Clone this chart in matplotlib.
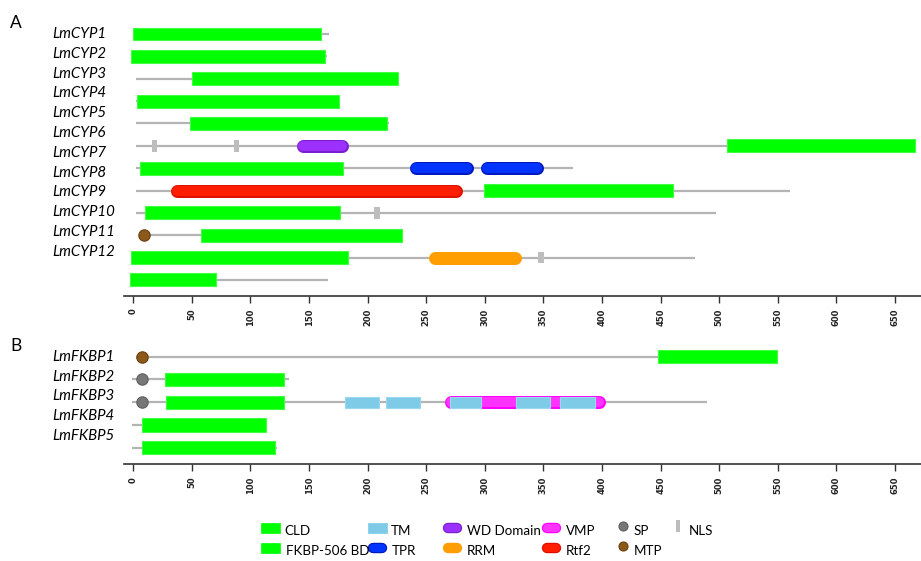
import matplotlib
matplotlib.use("Agg")
import matplotlib.pyplot as plt
from matplotlib.patches import Rectangle

plt.rcParams['font.family'] = ['Lato', 'DejaVu Sans']

# ---- данные: панель A (циклофилины) ----
cyp_labels = ["LmCYP1", "LmCYP2", "LmCYP3", "LmCYP4", "LmCYP5", "LmCYP6",
              "LmCYP7", "LmCYP8", "LmCYP9", "LmCYP10", "LmCYP11", "LmCYP12"]
cyp_line_start = [0, -2, 2, 2, 2, 2, 2, 2, 2, 9.5, -2, -3]
cyp_line_end = [167, 165.5, 226, 176, 218, 667, 375, 560.5, 497, 229.5, 479, 166]
cyp_cld = [(0, 0, 160.4), (1, -2, 164), (2, 50, 226), (3, 3.5, 175.5),
           (4, 48, 216.5), (5, 507, 667), (6, 6, 179), (7, 299.5, 461),
           (8, 10, 176), (9, 58, 229.5), (10, -2, 183), (11, -3, 71)]
cyp_nls = [(5, 18), (5, 88), (8, 208), (10, 348)]
cyp_wd = [(5, 139, 184)]
cyp_tpr = [(6, 236, 290), (6, 296, 350)]
cyp_rtf2 = [(7, 31.5, 281)]
cyp_rrm = [(10, 252, 331)]
cyp_mtp = [(9, 9.5)]

# ---- данные: панель B (FKBP) ----
fkbp_labels = ["LmFKBP1", "LmFKBP2", "LmFKBP3", "LmFKBP4", "LmFKBP5"]
fkbp_line_start = [2, -1, -1, -1, -1]
fkbp_line_end = [549, 133, 490, 113.5, 123]
fkbp_bd = [(0, 448, 549), (1, 27, 128.5), (2, 28, 128.5), (3, 7, 113.5), (4, 7, 120.5)]
fkbp_mtp = [(0, 7.5)]
fkbp_sp = [(1, 7.5), (2, 7.5)]
fkbp_tm = [(2, 181, 210), (2, 216, 245), (2, 270, 296.5), (2, 327, 356), (2, 364, 394)]
fkbp_vmp = [(2, 266, 403)]

ticks = list(range(0, 651, 50))

# цвета
GREEN = "#00ff00"
LINE = "#b4b4b4"
NLS_C = "#bdbdbd"
TM_C = "#7ecbe8"
COL = {"WD": ("#9b30ff", "#7a1fd0"), "TPR": ("#0033ff", "#0018c0"),
       "RRM": ("#ff9e00", "#ff9e00"), "VMP": ("#ff33ff", "#ff00ff"),
       "Rtf2": ("#ff1e00", "#e01000")}
SP_C = ("#777777", "#606060")
MTP_C = ("#8b5a1a", "#6b4010")

W, H = 921, 561
fig = plt.figure(figsize=(W / 100, H / 100), dpi=100)

X0_PX = 124          # левый край оси
XLIM = (-(133.3 - X0_PX) / 1.1718, (W - 133.3) / 1.1718)


def make_axes(top_px, bottom_px, first_row_px, step_px):
    ax = fig.add_axes([X0_PX / W, 1 - bottom_px / H, (W - X0_PX) / W, (bottom_px - top_px) / H])
    ax.set_xlim(*XLIM)
    ax.set_ylim((bottom_px - first_row_px) / step_px, (top_px - first_row_px) / step_px)
    for s in ["top", "right", "left"]:
        ax.spines[s].set_visible(False)
    ax.spines["bottom"].set_linewidth(1.2)
    ax.spines["bottom"].set_color("#333333")
    ax.set_yticks([])
    ax.set_xticks(ticks)
    ax.set_xticklabels([str(t) for t in ticks], rotation=90, fontsize=6,
                       family="DejaVu Sans", fontweight="bold", color="#222222")
    ax.tick_params(axis="x", length=5, width=1, pad=4, color="#333333")
    ax.patch.set_visible(False)
    return ax


BAR_PT = 13 * 0.72   # высота доменов 13 px в пунктах
BAR_H = 0.58


def draw_lines(ax, starts, ends):
    for i, (a, b) in enumerate(zip(starts, ends)):
        ax.plot([a, b], [i, i], color=LINE, lw=1.6, zorder=1, solid_capstyle="butt")


def draw_rects(ax, items, color, edge, h=BAR_H):
    for r, a, b in items:
        ax.barh(r, b - a, left=a, height=h, color=color, edgecolor=edge, lw=0.8, zorder=3)


def draw_pills(ax, items, key):
    face, edge = COL[key]
    cap = 6.5 / 1.1718
    for r, a, b in items:
        ax.plot([a + cap, b - cap], [r, r], color=edge, lw=BAR_PT, solid_capstyle="round", zorder=2)
        ax.plot([a + cap, b - cap], [r, r], color=face, lw=BAR_PT - 2.2, solid_capstyle="round", zorder=2.5)


def draw_nls(ax, items):
    for r, x in items:
        ax.barh(r, 4.5, left=x - 2.25, height=0.52, color=NLS_C, lw=0, zorder=3)


def draw_dots(ax, items, colors):
    for r, x in items:
        ax.plot([x], [r], marker="o", ms=8.2, mfc=colors[0], mec=colors[1], mew=0.8, zorder=4)


# ---- панель A ----
axA = make_axes(20, 296, 34, 22.36)
draw_lines(axA, cyp_line_start, cyp_line_end)
draw_rects(axA, cyp_cld, GREEN, "#40ff40")
draw_nls(axA, cyp_nls)
draw_pills(axA, cyp_wd, "WD")
draw_pills(axA, cyp_tpr, "TPR")
draw_pills(axA, cyp_rtf2, "Rtf2")
draw_pills(axA, cyp_rrm, "RRM")
draw_dots(axA, cyp_mtp, MTP_C)

# ---- панель B ----
axB = make_axes(343, 464.3, 356.7, 22.75)
draw_lines(axB, fkbp_line_start, fkbp_line_end)
draw_rects(axB, fkbp_bd, GREEN, "#40ff40")
draw_pills(axB, fkbp_vmp, "VMP")
draw_rects(axB, fkbp_tm, TM_C, "#9ad8f0", h=0.5)
draw_dots(axB, fkbp_mtp, MTP_C)
draw_dots(axB, fkbp_sp, SP_C)

# подписи белков
for k, name in enumerate(cyp_labels):
    fig.text(52 / W, 1 - (34 + 19.8 * k) / H, name, style="italic", fontsize=10.8,
             va="center", ha="left")
for k, name in enumerate(fkbp_labels):
    fig.text(52 / W, 1 - (357 + 19.7 * k) / H, name, style="italic", fontsize=10.8,
             va="center", ha="left")
fig.text(10 / W, 1 - 23 / H, "A", fontsize=12.5, va="center", ha="left")
fig.text(10 / W, 1 - 346 / H, "B", fontsize=12.5, va="center", ha="left")

# ---- легенда ----
leg = fig.add_axes([0, 0, 1, 1])
leg.set_xlim(0, W)
leg.set_ylim(H, 0)
leg.axis("off")
leg.patch.set_visible(False)

legend_items = [
    ("CLD", "rect", GREEN, GREEN, 261, 531),
    ("FKBP-506 BD", "rect", GREEN, GREEN, 261, 551),
    ("TM", "rect", TM_C, TM_C, 368, 531),
    ("TPR", "pill", COL["TPR"][0], COL["TPR"][1], 368, 551),
    ("WD Domain", "pill", COL["WD"][0], COL["WD"][1], 443, 531),
    ("RRM", "pill", COL["RRM"][0], COL["RRM"][1], 443, 551),
    ("VMP", "pill", COL["VMP"][0], COL["VMP"][1], 542, 531),
    ("Rtf2", "pill", COL["Rtf2"][0], COL["Rtf2"][1], 542, 551),
    ("SP", "dot", SP_C[0], SP_C[1], 619, 531),
    ("MTP", "dot", MTP_C[0], MTP_C[1], 619, 551),
    ("NLS", "nls", NLS_C, NLS_C, 676, 531),
]
for name, kind, fc, ec, x, y in legend_items:
    if kind == "rect":
        leg.add_patch(Rectangle((x, y - 8), 19, 10, fc=fc, ec=ec, lw=0.5))
        tx = x + 23 if name in ("CLD", "TM") else x + 25
    elif kind == "pill":
        leg.plot([x + 5, x + 14], [y - 3.5, y - 3.5], color=ec, lw=7.5, solid_capstyle="round")
        leg.plot([x + 5, x + 14], [y - 3.5, y - 3.5], color=fc, lw=5.8, solid_capstyle="round")
        tx = x + 24
    elif kind == "dot":
        leg.plot([x + 4], [y - 5], marker="o", ms=6.5, mfc=fc, mec=ec, mew=0.8)
        tx = x + 15
    else:
        leg.add_patch(Rectangle((x, y - 11), 4, 12, fc=fc, ec="none"))
        tx = x + 13
    leg.text(tx, y, name, fontsize=9.6, va="center", ha="left")

fig.savefig("out.png", dpi=100)
